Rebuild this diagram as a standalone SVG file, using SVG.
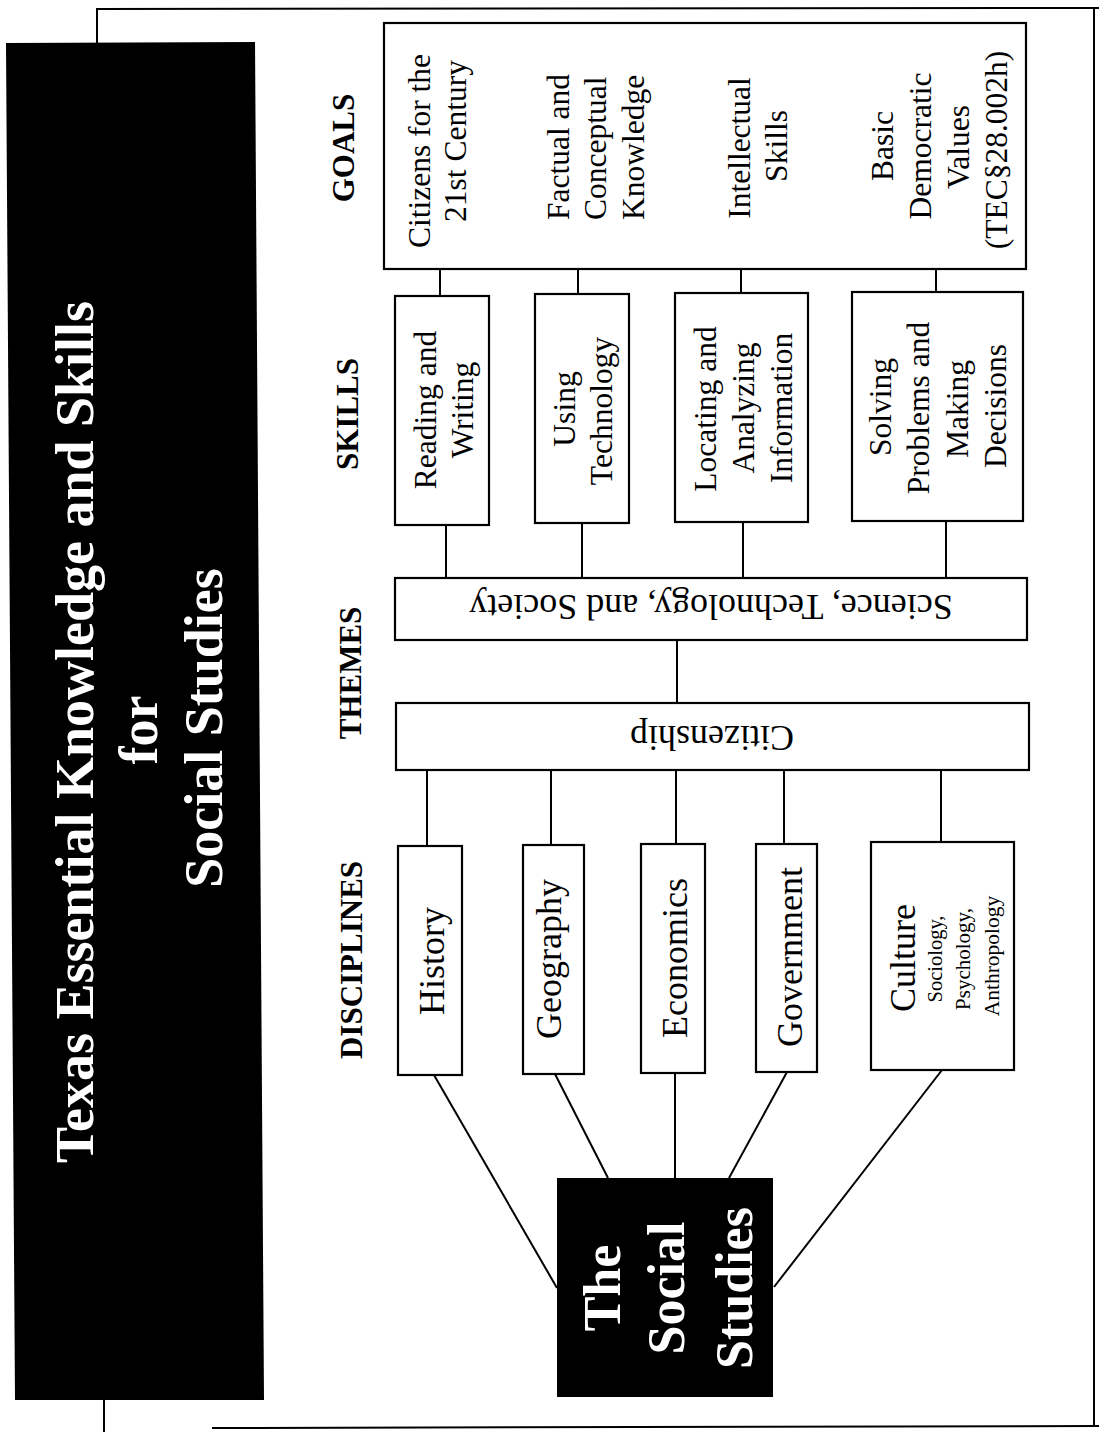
<svg xmlns="http://www.w3.org/2000/svg" width="1099" height="1432" viewBox="0 0 1099 1432">
<style>
.bx{fill:#fff;stroke:#000;stroke-width:2.2}
.ln{stroke:#000;stroke-width:2;fill:none}
.t{font-family:"Liberation Serif","Times New Roman",serif;fill:#000}
.g{font-size:31.5px}
.d{font-size:36px}
.h{font-size:31px;font-weight:bold}
.w{fill:#fff;font-weight:bold}
</style>
<rect width="1099" height="1432" fill="#fff"/>
<g id="frame" class="ln">
<polyline points="97,43 97,9 1099,8"/>
<line x1="1094" y1="8" x2="1094" y2="1427"/>
<line x1="212" y1="1428" x2="1099" y2="1426"/>
<line x1="104" y1="1400" x2="104" y2="1432"/>
</g>
<g id="title">
<polygon points="6,43 255,42 264,1400 15,1400" fill="#000"/>
<g class="t w" font-size="54" text-anchor="middle">
<text transform="translate(93 732) rotate(-90)">Texas Essential Knowledge and Skills</text>
<text transform="translate(157 730) rotate(-90)">for</text>
<text transform="translate(222 728) rotate(-90)">Social Studies</text>
</g>
</g>
<g id="headers" class="t h" text-anchor="middle">
<text transform="translate(354 148) rotate(-90)">GOALS</text>
<text transform="translate(358 414) rotate(-90)">SKILLS</text>
<text transform="translate(361 673) rotate(-90)">THEMES</text>
<text transform="translate(362 960) rotate(-90)">DISCIPLINES</text>
</g>
<g id="connectors" class="ln">
<line x1="440" y1="269" x2="440" y2="296"/>
<line x1="578" y1="269" x2="578" y2="294"/>
<line x1="741" y1="269" x2="741" y2="293"/>
<line x1="936" y1="269" x2="936" y2="292"/>
<line x1="446" y1="525" x2="446" y2="578"/>
<line x1="582" y1="523" x2="582" y2="578"/>
<line x1="743" y1="522" x2="743" y2="578"/>
<line x1="946" y1="521" x2="946" y2="578"/>
<line x1="677" y1="640" x2="677" y2="703"/>
<line x1="427" y1="770" x2="427" y2="846"/>
<line x1="551" y1="770" x2="551" y2="845"/>
<line x1="676" y1="770" x2="676" y2="844"/>
<line x1="784" y1="770" x2="784" y2="844"/>
<line x1="941" y1="770" x2="941" y2="842"/>
<line x1="434" y1="1075" x2="557" y2="1288"/>
<line x1="555" y1="1074" x2="608" y2="1178"/>
<line x1="675" y1="1073" x2="675" y2="1178"/>
<line x1="787" y1="1072" x2="729" y2="1178"/>
<line x1="942" y1="1070" x2="774" y2="1287"/>
</g>
<g id="goals">
<rect class="bx" x="384" y="23" width="642" height="246"/>
<g class="t g" text-anchor="middle">
<text transform="translate(430 151) rotate(-90)">Citizens for the</text>
<text transform="translate(466 141) rotate(-90)">21st Century</text>
<text transform="translate(569 220) rotate(-90)" text-anchor="start">Factual and</text>
<text transform="translate(606 220) rotate(-90)" text-anchor="start">Conceptual</text>
<text transform="translate(644 220) rotate(-90)" text-anchor="start">Knowledge</text>
<text transform="translate(750 148) rotate(-90)">Intellectual</text>
<text transform="translate(787 146) rotate(-90)">Skills</text>
<text transform="translate(893 146) rotate(-90)">Basic</text>
<text transform="translate(931 146) rotate(-90)">Democratic</text>
<text transform="translate(969 147) rotate(-90)">Values</text>
<text transform="translate(1007 150) rotate(-90)">(TEC§28.002h)</text>
</g>
</g>
<g id="skill-reading">
<rect class="bx" x="395" y="296" width="94" height="229"/>
<g class="t g" text-anchor="middle">
<text transform="translate(436 410) rotate(-90)">Reading and</text>
<text transform="translate(473 410) rotate(-90)">Writing</text>
</g>
</g>
<g id="skill-technology">
<rect class="bx" x="535" y="294" width="94" height="229"/>
<g class="t g" text-anchor="middle">
<text transform="translate(575 409) rotate(-90)">Using</text>
<text transform="translate(612 411) rotate(-90)">Technology</text>
</g>
</g>
<g id="skill-locating">
<rect class="bx" x="675" y="293" width="133" height="229"/>
<g class="t g" text-anchor="middle">
<text transform="translate(716 409) rotate(-90)">Locating and</text>
<text transform="translate(754 408) rotate(-90)">Analyzing</text>
<text transform="translate(792 408) rotate(-90)">Information</text>
</g>
</g>
<g id="skill-solving">
<rect class="bx" x="852" y="292" width="171" height="229"/>
<g class="t g" text-anchor="middle">
<text transform="translate(891 407) rotate(-90)">Solving</text>
<text transform="translate(929 408) rotate(-90)">Problems and</text>
<text transform="translate(968 409) rotate(-90)">Making</text>
<text transform="translate(1006 406) rotate(-90)">Decisions</text>
</g>
</g>
<g id="theme-sts">
<rect class="bx" x="395" y="578" width="632" height="62"/>
<text class="t d" text-anchor="middle" transform="translate(711 595) rotate(180)">Science, Technology, and Society</text>
</g>
<g id="theme-citizenship">
<rect class="bx" x="396" y="703" width="633" height="67"/>
<text class="t d" text-anchor="middle" transform="translate(712 726) rotate(180)">Citizenship</text>
</g>
<g id="disc-history">
<rect class="bx" x="398" y="846" width="64" height="229"/>
<text class="t d" text-anchor="middle" transform="translate(444 961) rotate(-90)">History</text>
</g>
<g id="disc-geography">
<rect class="bx" x="523" y="845" width="61" height="229"/>
<text class="t d" text-anchor="middle" transform="translate(561 959) rotate(-90)">Geography</text>
</g>
<g id="disc-economics">
<rect class="bx" x="641" y="844" width="64" height="229"/>
<text class="t d" text-anchor="middle" transform="translate(687 958) rotate(-90)">Economics</text>
</g>
<g id="disc-government">
<rect class="bx" x="756" y="844" width="61" height="228"/>
<text class="t d" text-anchor="middle" transform="translate(802 957) rotate(-90)">Government</text>
</g>
<g id="disc-culture">
<rect class="bx" x="871" y="842" width="143" height="228"/>
<g class="t" text-anchor="middle">
<text class="d" transform="translate(915 958) rotate(-90)">Culture</text>
<text font-size="20.5" transform="translate(942 959) rotate(-90)">Sociology,</text>
<text font-size="21" transform="translate(970 959) rotate(-90)">Psychology,</text>
<text font-size="21.5" transform="translate(999 956) rotate(-90)">Anthropology</text>
</g>
</g>
<g id="social-studies">
<rect x="557" y="1178" width="216" height="219" fill="#000"/>
<g class="t w" font-size="52" text-anchor="middle">
<text transform="translate(620 1288) rotate(-90)">The</text>
<text transform="translate(684 1288) rotate(-90)">Social</text>
<text transform="translate(752 1288) rotate(-90)">Studies</text>
</g>
</g>
</svg>
